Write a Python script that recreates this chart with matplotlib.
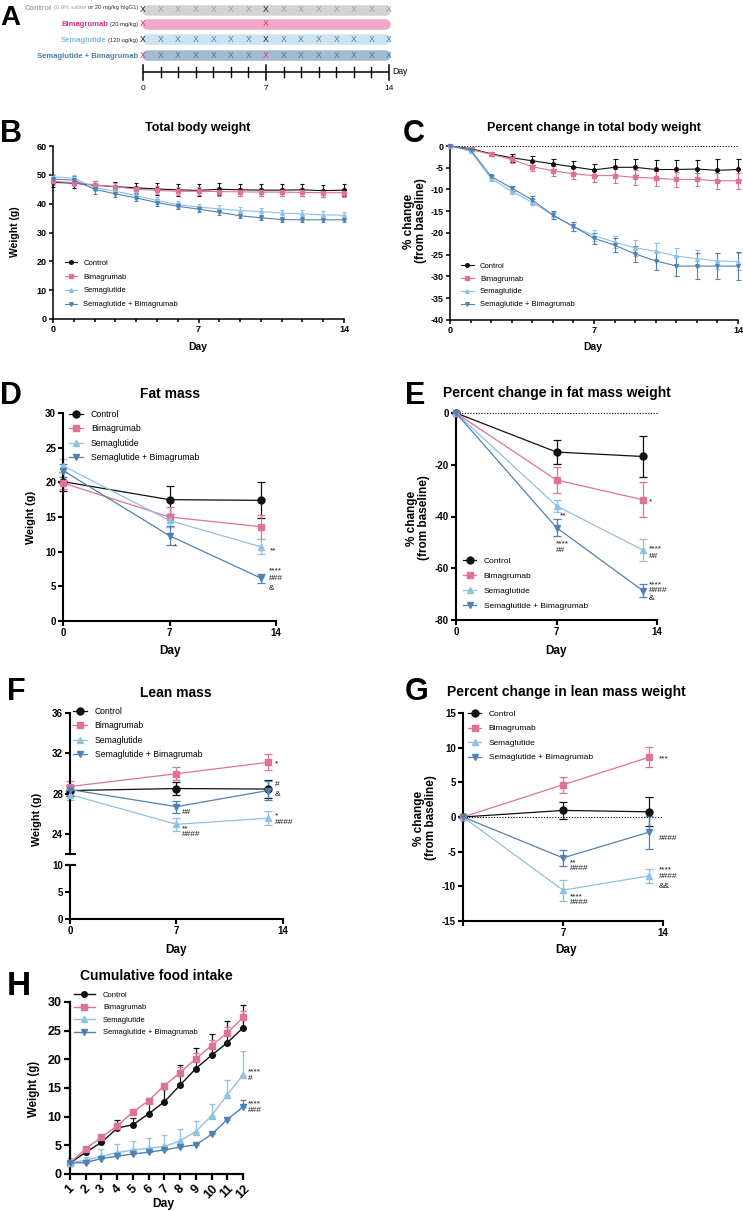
import numpy as np
import matplotlib
matplotlib.use('Agg')
import matplotlib.pyplot as plt
from matplotlib.lines import Line2D

plt.rcParams['font.family'] = ['Liberation Sans', 'DejaVu Sans']
plt.rcParams['axes.unicode_minus'] = False

# ---------------- data ----------------
groups = ['Control', 'Bimagrumab', 'Semaglutide', 'Semaglutide + Bimagrumab']

# A: dosing schedule
schedule_days = list(range(15))
antibody_days = [0, 7]
schedule_ticks = [0, 7, 14]

# B: total body weight (g), days 0-14
days_b = list(range(15))
ctrl_b = [47.4, 47.1, 46.4, 45.9, 45.5, 45.1, 44.8, 44.6, 45.0, 44.8, 44.7, 44.7, 44.8, 44.5, 44.7]
ctrl_b_err = [1.5, 1.5, 1.6, 1.7, 1.8, 2.0, 2.0, 2.1, 2.1, 2.1, 2.1, 2.1, 2.1, 2.1, 2.1]
bima_b = [47.7, 47.3, 46.5, 45.9, 45.0, 44.6, 44.3, 44.3, 44.2, 44.1, 44.0, 44.0, 43.9, 43.8, 43.8]
bima_b_err = [1.2, 1.2, 1.3, 1.3, 1.3, 1.4, 1.4, 1.4, 1.4, 1.4, 1.4, 1.4, 1.4, 1.4, 1.4]
sema_b = [49.3, 48.9, 45.6, 44.3, 42.8, 41.1, 39.7, 38.8, 38.2, 37.6, 37.3, 36.7, 36.5, 36.1, 36.0]
sema_b_err = [1.1, 1.1, 1.1, 1.1, 1.1, 1.2, 1.2, 1.2, 1.2, 1.2, 1.2, 1.2, 1.2, 1.2, 1.2]
combo_b = [48.5, 48.2, 45.0, 43.4, 42.0, 40.4, 39.1, 38.1, 37.0, 35.8, 35.1, 34.5, 34.4, 34.4, 34.4]
combo_b_err = [1.5, 1.4, 1.5, 1.2, 1.2, 1.2, 1.1, 1.0, 1.0, 0.9, 0.9, 0.9, 0.9, 0.9, 0.9]

# C: percent change in total body weight
ctrl_c = [0, -0.6, -1.8, -2.7, -3.4, -4.1, -4.8, -5.5, -4.9, -4.9, -5.4, -5.4, -5.3, -5.6, -5.4]
ctrl_c_err = [0, 0.3, 0.5, 0.9, 1.0, 1.1, 1.3, 1.3, 1.8, 1.8, 2.2, 2.2, 2.1, 2.5, 2.5]
bima_c = [0, -0.8, -1.9, -3.1, -4.75, -5.7, -6.4, -6.8, -6.8, -7.2, -7.4, -7.7, -7.7, -8.0, -8.0]
bima_c_err = [0, 0.3, 0.4, 0.7, 1.1, 1.1, 1.3, 1.4, 1.6, 1.7, 1.7, 1.7, 1.6, 1.8, 1.9]
sema_c = [0, -1.2, -7.5, -10.4, -12.95, -15.9, -18.5, -20.6, -22.1, -23.4, -24.2, -25.3, -25.9, -26.4, -26.6]
sema_c_err = [0, 0.3, 0.5, 0.6, 0.7, 0.8, 1.0, 1.2, 1.4, 1.8, 2.0, 1.9, 2.0, 1.9, 2.0]
combo_c = [0, -0.9, -7.0, -9.7, -12.4, -15.9, -18.5, -21.2, -22.8, -24.8, -26.4, -27.6, -27.6, -27.6, -27.6]
combo_c_err = [0, 0.3, 0.4, 0.6, 0.9, 0.9, 1.1, 1.3, 1.6, 1.8, 2.0, 2.2, 2.9, 2.9, 3.2]

# D-G: body composition, days 0, 7, 13
days_mass = [0, 7, 13]
ctrl_d = [20.1, 17.5, 17.4]; ctrl_d_err = [1.4, 2.0, 2.6]
bima_d = [19.9, 15.0, 13.6]; bima_d_err = [0.8, 1.45, 1.75]
sema_d = [22.4, 14.5, 10.7]; sema_d_err = [0.9, 1.0, 1.1]
combo_d = [21.7, 12.3, 6.2]; combo_d_err = [1.0, 1.4, 0.65]

ctrl_e = [0, -15.1, -16.8]; ctrl_e_err = [0, 4.7, 8.0]
bima_e = [0, -25.9, -33.5]; bima_e_err = [0, 4.9, 6.8]
sema_e = [0, -35.9, -52.9]; sema_e_err = [0, 2.4, 4.3]
combo_e = [0, -44.3, -68.6]; combo_e_err = [0, 3.2, 2.4]

ctrl_f = [28.3, 28.5, 28.45]; ctrl_f_err = [0.5, 0.6, 0.9]
bima_f = [28.7, 29.97, 31.1]; bima_f_err = [0.5, 0.65, 0.8]
sema_f = [27.9, 24.95, 25.55]; sema_f_err = [0.5, 0.65, 0.7]
combo_f = [28.4, 26.7, 28.3]; combo_f_err = [0.5, 0.6, 0.9]

ctrl_g = [0, 0.95, 0.75]; ctrl_g_err = [0, 1.25, 2.1]
bima_g = [0, 4.65, 8.6]; bima_g_err = [0, 1.15, 1.45]
sema_g = [0, -10.55, -8.5]; sema_g_err = [0, 1.5, 1.05]
combo_g = [0, -5.9, -2.2]; combo_g_err = [0, 1.2, 2.4]

# H: cumulative food intake (g), days 1-12
days_h = list(range(1, 13))
ctrl_h = [1.9, 3.8, 5.5, 8.0, 8.6, 10.5, 12.6, 15.5, 18.4, 20.7, 22.9, 25.5]
ctrl_h_err = [0.1, 0.2, 0.5, 1.4, 1.15, 1.9, 2.3, 3.45, 3.6, 3.7, 3.7, 3.9]
bima_h = [1.9, 4.4, 6.4, 8.4, 10.8, 12.8, 15.4, 17.7, 20.1, 22.4, 24.6, 27.3]
bima_h_err = [0.1, 0.3, 0.3, 0.5, 0.3, 0.4, 0.5, 1.0, 1.0, 1.0, 1.0, 1.2]
sema_h = [2.0, 2.4, 3.1, 3.7, 4.2, 4.5, 4.8, 5.8, 7.4, 10.2, 13.8, 17.3]
sema_h_err = [0.8, 0.5, 1.3, 1.5, 1.6, 1.8, 2.0, 2.1, 1.9, 2.0, 2.6, 4.1]
combo_h = [1.9, 2.0, 2.7, 3.1, 3.5, 3.8, 4.2, 4.7, 5.1, 6.9, 9.5, 11.7]
combo_h_err = [0.1, 0.1, 0.1, 0.1, 0.1, 0.1, 0.1, 0.1, 0.3, 0.3, 0.4, 1.15]

# ---------------- figure helpers ----------------
W, H = 743, 1211
fig = plt.figure(figsize=(W / 100, H / 100), dpi=100)

COLORS = ['#111111', '#e0719b', '#8ec1e4', '#4f82b3']
MARKERS = ['o', 's', '^', 'v']


def px_axes(l, t, r, b):
    return fig.add_axes([l / W, 1 - b / H, (r - l) / W, (b - t) / H])


def ftext(x, y, s, **kw):
    return fig.text(x / W, 1 - y / H, s, **kw)


def fline(xs, ys, **kw):
    fig.add_artist(Line2D([x / W for x in xs], [1 - y / H for y in ys],
                          transform=fig.transFigure, **kw))


def style(ax, lw, tlen, fs, pad):
    for s in ('top', 'right'):
        ax.spines[s].set_visible(False)
    for s in ('left', 'bottom'):
        ax.spines[s].set_linewidth(lw)
    ax.tick_params(which='both', direction='out', width=lw, labelsize=fs, pad=pad)
    ax.tick_params(which='major', length=tlen)
    ax.tick_params(which='minor', length=tlen * 0.75)
    ax.patch.set_visible(False)


def bold_ticks(ax):
    for t in ax.get_xticklabels() + ax.get_yticklabels():
        t.set_fontweight('bold')


def series(ax, x, ys, es, ms, lw, cs, elw, upper_only=False):
    handles = [None] * 4
    for i in (3, 2, 1, 0):
        e = np.asarray(es[i], float)
        yerr = [np.zeros_like(e), e] if upper_only else e
        ax.errorbar(x, ys[i], yerr=yerr, fmt='none', ecolor=COLORS[i], elinewidth=elw,
                    capsize=cs, capthick=elw, clip_on=False, zorder=2 + i * 0.1)
        h, = ax.plot(x, ys[i], color=COLORS[i], marker=MARKERS[i], ms=ms, lw=lw,
                     clip_on=False, zorder=3 + i * 0.1, label=groups[i])
        handles[i] = h
    return handles


def legend(ax, handles, x, ycenter, fs, spacing, hl, htp):
    fpx = fs * 100 / 72
    ax.legend(handles=handles, loc='upper left',
              bbox_to_anchor=(x / W, 1 - (ycenter - 0.58 * fpx) / H),
              bbox_transform=fig.transFigure, frameon=False, fontsize=fs,
              labelspacing=spacing, handlelength=hl, handletextpad=htp,
              borderpad=0, borderaxespad=0)


def note(x, y, s, fs=6):
    if set(s) == {'*'}:
        y += 2
    ftext(x, y, s, fontsize=fs, ha='left', va='center', color='#111111')


def letter(x, ybase, s, fs=22):
    ftext(x, ybase, s, fontsize=fs, fontweight='bold', ha='left', va='baseline')


def title(x, ybase, s, fs):
    ftext(x, ybase, s, fontsize=fs, fontweight='bold', ha='center', va='baseline')


def ylab(x, y, s, fs):
    ftext(x, y, s, fontsize=fs, fontweight='bold', ha='center', va='center',
          rotation=90, linespacing=1.0, multialignment='center')


def xlab(x, y, s, fs):
    ftext(x, y, s, fontsize=fs, fontweight='bold', ha='center', va='center')


# ---------------- Panel A ----------------
letter(0, 25, 'A', 20)
axA = px_axes(143, 0, 389, 100)
axA.set_xlim(0, 14)
axA.set_ylim(100, 0)
axA.axis('off')
row_y = [10, 24, 39, 55]
bar_colors = ['#d3d3d3', '#f2a8c8', '#cfe2f2', '#a3bbd0']
GRAYX, BLACKX, MAGX, BLUEX = '#9e9e9e', '#1a1a1a', '#e0307a', '#3d7bb0'
for y, c in zip(row_y, bar_colors):
    axA.plot([0.2, 13.8], [y, y], color=c, lw=7.6, solid_capstyle='round', clip_on=False)
x_rows = [
    [(d, BLACKX if d in antibody_days else GRAYX) for d in schedule_days],
    [(d, MAGX) for d in antibody_days],
    [(d, BLACKX if d in antibody_days else BLUEX) for d in schedule_days],
    [(d, MAGX if d in antibody_days else BLUEX) for d in schedule_days],
]
for y, marks in zip(row_y, x_rows):
    for d, c in marks:
        axA.text(d, y, 'X', color=c, fontsize=6.2, ha='center', va='center', clip_on=False)
axA.plot([0, 14], [72, 72], color='k', lw=1.1, clip_on=False, solid_capstyle='butt')
for d in schedule_days:
    if d in schedule_ticks:
        axA.plot([d, d], [65, 80], color='k', lw=1.1, clip_on=False)
    else:
        axA.plot([d, d], [67, 77], color='k', lw=1.0, clip_on=False)
for d in schedule_ticks:
    axA.text(d, 88, str(d), ha='center', va='center', fontsize=6)
axA.text(14.2, 72, 'Day', ha='left', va='center', fontsize=6.2)

renderer = fig.canvas.get_renderer()


def rich_right(x_px, ybase, pieces):
    x = x_px
    for s, fs, col, wt, gap in reversed(pieces):
        t = ftext(x, ybase, s, fontsize=fs, color=col, fontweight=wt, ha='right', va='baseline')
        x -= t.get_window_extent(renderer).width + gap


rich_right(138, 9.5, [('Control', 5.5, '#a6a6a6', 'bold', 0),
                      ('(0.9% saline', 4.2, '#9a9a9a', 'normal', 1.6),
                      ('or 20 mg/kg hIgG1)', 4.2, '#333333', 'normal', 1.2)])
rich_right(138, 26, [('Bimagrumab', 5.5, '#e0307a', 'bold', 0),
                     ('(20 mg/kg)', 4.2, '#222222', 'normal', 2.0)])
rich_right(138, 42, [('Semaglutide', 5.5, '#86b8dc', 'bold', 0),
                     ('(120 ug/kg)', 4.2, '#222222', 'normal', 2.0)])
rich_right(138, 58, [('Semaglutide + Bimagrumab', 5.5, '#4d7ea8', 'bold', 0)])

# ---------------- Panel B ----------------
letter(0, 142, 'B')
title(198, 131, 'Total body weight', 9)
axB = px_axes(53, 146, 344, 319)
style(axB, 1.1, 3, 6.5, 1.5)
axB.set_xlim(0, 14)
axB.set_ylim(0, 60)
axB.set_xticks([0, 7, 14])
axB.set_xticks(days_b, minor=True)
axB.set_yticks(range(0, 61, 10))
bold_ticks(axB)
hB = series(axB, days_b, [ctrl_b, bima_b, sema_b, combo_b],
            [ctrl_b_err, bima_b_err, sema_b_err, combo_b_err], 2.6, 0.8, 1.4, 0.8)
legend(axB, hB, 65, 264, 5.5, 0.84, 1.6, 0.8)
ylab(15, 232, 'Weight (g)', 7.5)
xlab(198, 347, 'Day', 7.5)

# ---------------- Panel C ----------------
letter(403, 142, 'C')
title(594, 131, 'Percent change in total body weight', 9)
axC = px_axes(450, 146, 738, 320)
style(axC, 1.1, 3, 6.5, 1.5)
axC.set_xlim(0, 14)
axC.set_ylim(-40, 0)
axC.set_xticks([0, 7, 14])
axC.set_xticks(days_b, minor=True)
axC.set_yticks(range(-40, 1, 5))
bold_ticks(axC)
axC.plot([0, 14], [0, 0], color='k', lw=0.8, ls=(0, (1, 1.5)), clip_on=False, zorder=1)
hC = series(axC, days_b, [ctrl_c, bima_c, sema_c, combo_c],
            [ctrl_c_err, bima_c_err, sema_c_err, combo_c_err], 2.6, 0.8, 1.8, 0.8)
legend(axC, hC, 461, 267, 5.5, 0.71, 1.7, 0.8)
ylab(415, 221, '% change\n(from baseline)', 8.5)
xlab(593, 347, 'Day', 7.5)

# ---------------- Panel D ----------------
letter(0, 404, 'D')
title(170, 398, 'Fat mass', 10)
axD = px_axes(63, 413, 276, 621)
style(axD, 1.5, 3.5, 7, 1.5)
axD.set_xlim(0, 14)
axD.set_ylim(0, 30)
axD.set_xticks([0, 7, 14])
axD.set_yticks(range(0, 31, 5))
bold_ticks(axD)
hD = series(axD, days_mass, [ctrl_d, bima_d, sema_d, combo_d],
            [ctrl_d_err, bima_d_err, sema_d_err, combo_d_err], 5, 0.9, 2.8, 0.9)
legend(axD, hD, 69, 415, 6.3, 0.63, 1.6, 0.9)
ylab(31, 517, 'Weight (g)', 7.8)
xlab(170, 651, 'Day', 8.5)
note(174, 545, '*')
note(270, 549, '**')
note(269, 569, '****')
note(269, 578, '###')
note(269, 589, '&')

# ---------------- Panel E ----------------
letter(405, 404, 'E')
title(557, 397, 'Percent change in fat mass weight', 10)
axE = px_axes(456, 413, 657, 620)
style(axE, 1.5, 3.5, 7, 1.5)
axE.set_xlim(0, 14)
axE.set_ylim(-80, 0)
axE.set_xticks([0, 7, 14])
axE.set_yticks(range(-80, 1, 20))
bold_ticks(axE)
axE.plot([0, 14], [0, 0], color='k', lw=0.8, ls=(0, (1, 1.5)), clip_on=False, zorder=1)
hE = series(axE, days_mass, [ctrl_e, bima_e, sema_e, combo_e],
            [ctrl_e_err, bima_e_err, sema_e_err, combo_e_err], 5, 0.9, 2.8, 0.9)
legend(axE, hE, 463, 562, 6.0, 0.84, 1.6, 0.9)
ylab(418, 518, '% change\n(from baseline)', 8.5)
xlab(556, 651, 'Day', 8.5)
note(560, 514, '**')
note(556, 542, '****')
note(556, 551, '##')
note(649, 500, '*')
note(649, 547, '****')
note(649, 556, '##')
note(649, 583, '****')
note(649, 591, '####')
note(649, 599, '&')

# ---------------- Panel F (broken axis) ----------------
letter(7, 700, 'F')
title(176, 697, 'Lean mass', 10)
axF = px_axes(70, 713, 283, 854)
style(axF, 1.5, 3.5, 7, 1.5)
axF.spines['bottom'].set_visible(False)
axF.set_xlim(0, 14)
axF.set_ylim(22, 36)
axF.set_xticks([])
axF.set_yticks(range(24, 37, 4))
bold_ticks(axF)
axF2 = px_axes(70, 865, 283, 919)
style(axF2, 1.5, 3.5, 7, 1.5)
axF2.set_xlim(0, 14)
axF2.set_ylim(0, 10)
axF2.set_xticks([0, 7, 14])
axF2.set_yticks([0, 5, 10])
bold_ticks(axF2)
fline([66, 74.5], [854, 854], color='k', lw=1.5)
fline([66, 74.5], [865, 865], color='k', lw=1.5)
hF = series(axF, days_mass, [ctrl_f, bima_f, sema_f, combo_f],
            [ctrl_f_err, bima_f_err, sema_f_err, combo_f_err], 5, 0.9, 2.8, 0.9)
legend(axF, hF, 73, 712, 6.2, 0.62, 1.6, 0.9)
ylab(37, 819, 'Weight (g)', 7.8)
xlab(176, 950, 'Day', 8.5)
note(275, 762, '*')
note(275, 784, '#')
note(275, 794, '&')
note(182, 812, '##')
note(182, 827, '**')
note(182, 835, '####')
note(275, 814, '*')
note(275, 823, '####')

# ---------------- Panel G ----------------
letter(405, 700, 'G')
title(566, 696, 'Percent change in lean mass weight', 10)
axG = px_axes(463, 713, 663, 921)
style(axG, 1.5, 3.5, 7, 1.5)
axG.set_xlim(0, 14)
axG.set_ylim(-15, 15)
axG.set_xticks([0, 7, 14], ['', '7', '14'])
axG.set_yticks(range(-15, 16, 5))
bold_ticks(axG)
axG.plot([0, 14], [0, 0], color='k', lw=0.8, ls=(0, (1, 1.5)), clip_on=False, zorder=1)
hG = series(axG, days_mass, [ctrl_g, bima_g, sema_g, combo_g],
            [ctrl_g_err, bima_g_err, sema_g_err, combo_g_err], 5, 0.9, 2.8, 0.9)
legend(axG, hG, 468, 715, 6.0, 0.8, 1.6, 0.9)
ylab(425, 818, '% change\n(from baseline)', 8.5)
xlab(566, 950, 'Day', 8.5)
note(659, 757, '***')
note(659, 839, '####')
note(570, 861, '**')
note(570, 868, '####')
note(570, 895, '****')
note(570, 903, '####')
note(659, 868, '****')
note(659, 876, '####')
note(659, 887, '&&')

# ---------------- Panel H ----------------
letter(7, 995, 'H', 24)
title(156, 980, 'Cumulative food intake', 10)
axH = px_axes(70, 1002, 243, 1174)
style(axH, 1.6, 4, 9, 2)
axH.set_xlim(1, 12)
axH.set_ylim(0, 30)
axH.set_xticks(days_h)
axH.set_yticks(range(0, 31, 5))
for t in axH.get_xticklabels():
    t.set_rotation(45)
bold_ticks(axH)
hH = series(axH, days_h, [ctrl_h, bima_h, sema_h, combo_h],
            [ctrl_h_err, bima_h_err, sema_h_err, combo_h_err], 4, 1.0, 2.2, 0.9,
            upper_only=True)
legend(axH, hH, 74, 996, 5.5, 0.67, 2.7, 1.1)
ylab(34, 1089, 'Weight (g)', 8.3)
xlab(163, 1204, 'Day', 8.7)
note(248, 1070, '****')
note(248, 1078, '#')
note(248, 1102, '****')
note(248, 1111, '###')

fig.savefig('out.png', dpi=100)
